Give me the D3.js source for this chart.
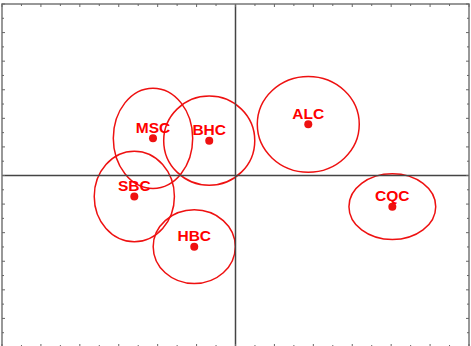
<!DOCTYPE html>
<html>
<head>
<meta charset="utf-8">
<script src="https://d3js.org/d3.v7.min.js"></script>
<style>
  body { margin: 0; background: #fff; }
  .lbl { font-family: "Liberation Sans", Arial, sans-serif; font-weight: bold; font-size: 15.5px; fill: #f00; }
</style>
</head>
<body>
<div id="chart"></div>
<script>
const width = 471, height = 346;

// group names, centroid scores and confidence ellipse half-axes
const groups = ["MSC", "BHC", "SBC", "HBC", "ALC", "CQC"];
const xs = [-0.424, -0.135, -0.520, -0.212, 0.374, 0.806];
const ys = [0.260, 0.244, -0.147, -0.498, 0.358, -0.218];
const rxs = [0.204, 0.234, 0.206, 0.211, 0.262, 0.223];
const rys = [0.351, 0.312, 0.316, 0.258, 0.335, 0.230];

const xDomain = [-1.2, 1.2];
const yDomain = [-1.2, 1.2];

const x = d3.scaleLinear().domain(xDomain).range([2, 469]);
const y = d3.scaleLinear().domain(yDomain).range([347, 4]);

const svg = d3.select("#chart").append("svg")
  .attr("width", width).attr("height", height);

const red = "#ee1111";

// ellipses
svg.selectAll(".ell")
  .data(groups)
  .join("ellipse")
  .attr("cx", (d, i) => x(xs[i]))
  .attr("cy", (d, i) => y(ys[i]))
  .attr("rx", (d, i) => x(rxs[i]) - x(0))
  .attr("ry", (d, i) => y(0) - y(rys[i]))
  .attr("fill", "none")
  .attr("stroke", red)
  .attr("stroke-width", 1.5);

// crosshair
svg.append("line")
  .attr("x1", x(0)).attr("x2", x(0))
  .attr("y1", y(yDomain[1])).attr("y2", y(yDomain[0]))
  .attr("stroke", "#444").attr("stroke-width", 1.5);
svg.append("line")
  .attr("x1", x(xDomain[0])).attr("x2", x(xDomain[1]))
  .attr("y1", y(0)).attr("y2", y(0))
  .attr("stroke", "#444").attr("stroke-width", 1.5);

// frame
svg.append("rect")
  .attr("x", x(xDomain[0])).attr("y", y(yDomain[1]))
  .attr("width", x(xDomain[1]) - x(xDomain[0]))
  .attr("height", y(yDomain[0]) - y(yDomain[1]))
  .attr("fill", "none").attr("stroke", "#777").attr("stroke-width", 1.5);

// inward ticks on all four sides
const xTicks = d3.range(-12, 13).map(k => k / 10);
const yTicks = d3.range(-12, 13).map(k => k / 10);
const tickLen = k => (Math.round(k * 10) % 2 === 0 ? 3 : 2);

const ticks = svg.append("g").attr("stroke", "#666").attr("stroke-width", 1);
xTicks.forEach(v => {
  ticks.append("line").attr("x1", x(v)).attr("x2", x(v))
    .attr("y1", y(yDomain[1])).attr("y2", y(yDomain[1]) + tickLen(v));
  ticks.append("line").attr("x1", x(v)).attr("x2", x(v))
    .attr("y1", y(yDomain[0])).attr("y2", y(yDomain[0]) - tickLen(v));
});
yTicks.forEach(v => {
  ticks.append("line").attr("y1", y(v)).attr("y2", y(v))
    .attr("x1", x(xDomain[0])).attr("x2", x(xDomain[0]) + tickLen(v));
  ticks.append("line").attr("y1", y(v)).attr("y2", y(v))
    .attr("x1", x(xDomain[1])).attr("x2", x(xDomain[1]) - tickLen(v));
});

// centroids
svg.selectAll(".pt")
  .data(groups)
  .join("circle")
  .attr("cx", (d, i) => x(xs[i]))
  .attr("cy", (d, i) => y(ys[i]))
  .attr("r", 4)
  .attr("fill", red);

// labels
svg.selectAll(".lbl")
  .data(groups)
  .join("text")
  .attr("class", "lbl")
  .attr("x", (d, i) => x(xs[i]))
  .attr("y", (d, i) => y(ys[i]) - 5.5)
  .attr("text-anchor", "middle")
  .text(d => d);
</script>
</body>
</html>
